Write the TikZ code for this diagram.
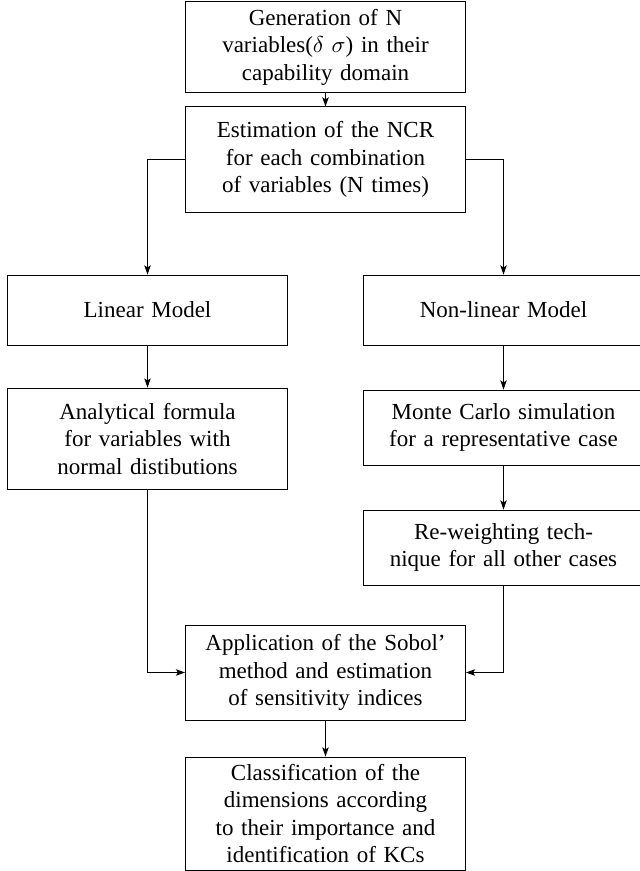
\documentclass[tikz,border=0pt]{standalone}
\usepackage{fontspec}
\setmainfont{Liberation Serif}
\usetikzlibrary{arrows.meta}
\begin{document}
\begin{tikzpicture}[x=0.4348pt,y=-0.4348pt,
  box/.style={draw, align=center, text width=112pt, inner sep=3pt, minimum width=121.7pt, font=\fontsize{10}{12}\selectfont},
  conn/.style={-{Stealth[length=4pt,width=2.8pt,inset=0.9pt]}}]
\clip (0,0) rectangle (640,871);
\useasboundingbox (0,0) rectangle (640,871);
\node[box, minimum height=39.1pt] (b1) at (325.5,47) {Generation of N\\variables($\delta$ $\sigma$) in their\\capability domain};
\node[box, minimum height=45.7pt] (b2) at (325.5,159.5) {Estimation of the NCR\\for each combination\\of variables (N times)};
\node[box, minimum height=30.4pt] (lin) at (147.5,310) {Linear Model};
\node[box, minimum height=30.4pt] (nlin) at (503.5,310) {Non-linear Model};
\node[box, minimum height=44.3pt] (ana) at (147.5,439) {Analytical formula\\for variables with\\normal distibutions};
\node[box, minimum height=32.6pt] (mc) at (503.5,427.5) {Monte Carlo simulation\\for a representative case};
\node[box, minimum height=32.6pt] (rw) at (503.5,547.5) {Re-weighting tech-\\nique for all other cases};
\node[box, minimum height=41.3pt] (sob) at (325.5,672.5) {Application of the Sobol'\\method and estimation\\of sensitivity indices};
\node[box, minimum height=48.3pt] (cls) at (325.5,813.5) {Classification of the\\dimensions according\\to their importance and\\identification of KCs};
\draw[conn] (b1) -- (b2);
\draw[conn] (b2.west) -| (lin.north);
\draw[conn] (b2.east) -| (nlin.north);
\draw[conn] (lin) -- (ana);
\draw[conn] (nlin) -- (mc);
\draw[conn] (mc) -- (rw);
\draw[conn] (ana.south) |- (sob.west);
\draw[conn] (rw.south) |- (sob.east);
\draw[conn] (sob) -- (cls);
\end{tikzpicture}
\end{document}
